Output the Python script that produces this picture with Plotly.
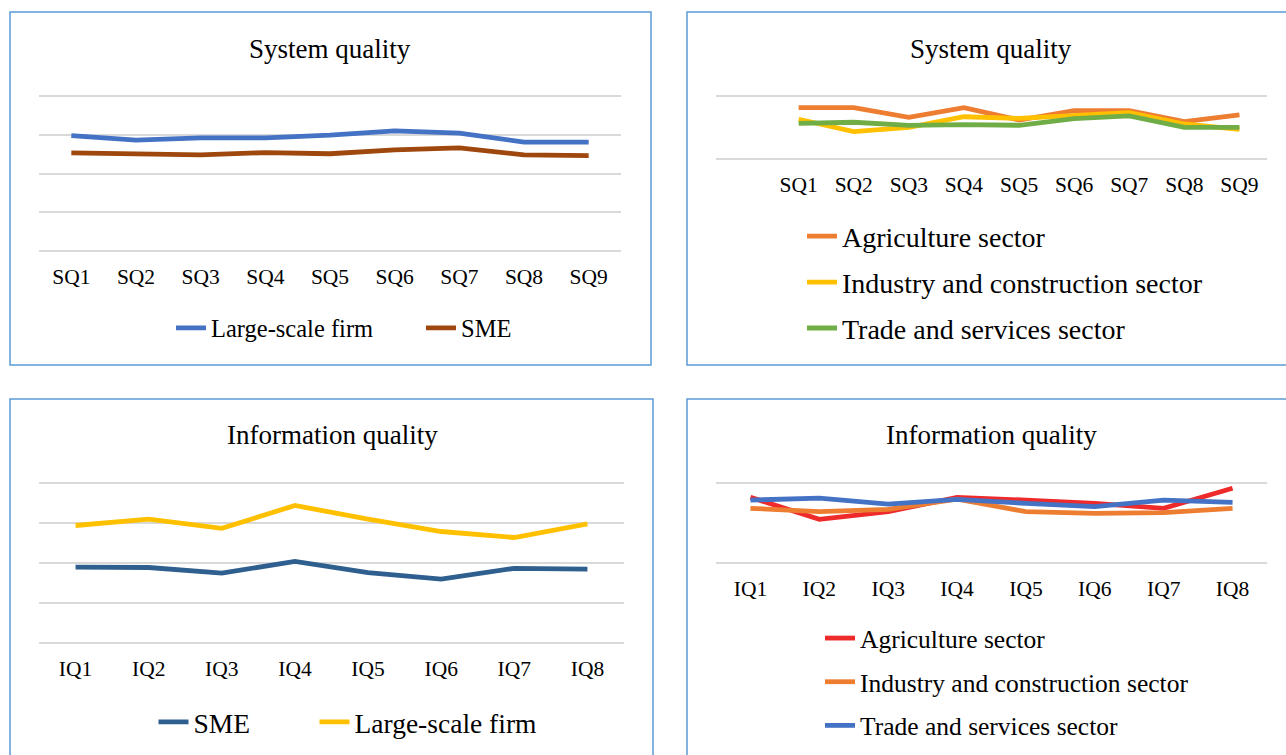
import plotly.graph_objects as go

W, H = 1286, 755

sq_labels = ["SQ1", "SQ2", "SQ3", "SQ4", "SQ5", "SQ6", "SQ7", "SQ8", "SQ9"]
iq_labels = ["IQ1", "IQ2", "IQ3", "IQ4", "IQ5", "IQ6", "IQ7", "IQ8"]

# Panel 1: System quality by firm size
sq_large = [2.98, 2.86, 2.92, 2.92, 2.99, 3.10, 3.04, 2.81, 2.81]
sq_sme = [2.53, 2.50, 2.48, 2.54, 2.51, 2.61, 2.66, 2.48, 2.46]

# Panel 2: System quality by sector
sq_agri = [3.26, 3.26, 2.65, 3.26, 2.48, 3.07, 3.07, 2.38, 2.80]
sq_ind = [2.53, 1.75, 2.02, 2.69, 2.59, 2.80, 2.95, 2.23, 1.89]
sq_trade = [2.27, 2.34, 2.15, 2.19, 2.15, 2.57, 2.74, 2.02, 2.02]

# Panel 3: Information quality by firm size
iq_sme = [1.89, 1.88, 1.74, 2.03, 1.75, 1.59, 1.86, 1.84]
iq_large = [2.93, 3.09, 2.86, 3.43, 3.09, 2.78, 2.63, 2.97]

# Panel 4: Information quality by sector
iq_agri = [3.27, 2.17, 2.55, 3.27, 3.13, 2.97, 2.72, 3.72]
iq_ind = [2.72, 2.55, 2.67, 3.18, 2.55, 2.47, 2.50, 2.72]
iq_trade = [3.13, 3.23, 2.93, 3.17, 2.97, 2.80, 3.13, 3.02]

FONT = "Liberation Serif"
LW = 4.8
YMAX = 4.0
PAD = 0.1
LABEL_GAP = 6.0


def px(x):
    return x / W


def py(y):
    return 1 - y / H


def ydom(top_px, bottom_px):
    # top_px / bottom_px: pixel rows of the gridlines at YMAX and 0
    unit = (bottom_px - top_px) / YMAX
    return [py(bottom_px + PAD * unit), py(top_px - PAD * unit)], PAD * unit


fig = go.Figure()


def add(xax, yax, labels, vals, name, color, legend, group):
    fig.add_trace(go.Scatter(
        x=list(range(len(labels))), y=vals, mode="lines", name=name,
        line=dict(color=color, width=LW), xaxis=xax, yaxis=yax,
        legend=legend, legendgroup=group, hoverinfo="skip"))


add("x", "y", sq_labels, sq_large, "Large-scale firm", "#4472C4", "legend", "a")
add("x", "y", sq_labels, sq_sme, "SME", "#9E480E", "legend5", "b")

add("x2", "y2", sq_labels, sq_agri, "Agriculture sector", "#ED7D31", "legend2", "c")
add("x2", "y2", sq_labels, sq_ind, "Industry and construction sector", "#FFC000", "legend2", "d")
add("x2", "y2", sq_labels, sq_trade, "Trade and services sector", "#70AD47", "legend2", "e")

add("x3", "y3", iq_labels, iq_sme, "SME", "#2F5F8F", "legend3", "f")
add("x3", "y3", iq_labels, iq_large, "Large-scale firm", "#FFC000", "legend6", "g")

add("x4", "y4", iq_labels, iq_agri, "Agriculture sector", "#EE2A2A", "legend4", "h")
add("x4", "y4", iq_labels, iq_ind, "Industry and construction sector", "#ED7D31", "legend4", "i")
add("x4", "y4", iq_labels, iq_trade, "Trade and services sector", "#4472C4", "legend4", "j")

grid = "#D9D9D9"


def xaxis(dom, labels, lo, anchor, pad_px):
    return dict(domain=dom, range=[lo, len(labels) - 0.5], anchor=anchor,
                tickmode="array", tickvals=list(range(len(labels))), ticktext=labels,
                showgrid=False, zeroline=False, showline=False,
                ticks="outside", ticklen=max(0.5, LABEL_GAP - pad_px),
                tickcolor="rgba(0,0,0,0)",
                tickfont=dict(family=FONT, size=21.5, color="#000000"), fixedrange=True)


def yaxis(dom, dtick, anchor):
    return dict(domain=dom, range=[-PAD, YMAX + PAD], dtick=dtick, tick0=0,
                showticklabels=False, anchor=anchor,
                showgrid=True, gridcolor=grid, gridwidth=1.5,
                zeroline=True, zerolinecolor=grid, zerolinewidth=1.5,
                showline=False, fixedrange=True)


d1, p1 = ydom(96, 251)
d2, p2 = ydom(96, 159.3)
d3, p3 = ydom(482.7, 642.7)
d4, p4 = ydom(482.7, 562.7)


def hleg(text_x, y, size):
    return dict(orientation="h", x=px(text_x - 40), y=py(y), xanchor="left", yanchor="middle",
                font=dict(family=FONT, size=size, color="#000"), bgcolor="rgba(0,0,0,0)")


layout = dict(
    width=W, height=H, margin=dict(l=0, r=0, t=0, b=0),
    paper_bgcolor="white", plot_bgcolor="white",
    xaxis=xaxis([px(39), px(621)], sq_labels, -0.5, "y", p1),
    yaxis=yaxis(d1, 1, "x"),
    xaxis2=xaxis([px(716), px(1267)], sq_labels, -1.5, "y2", p2),
    yaxis2=yaxis(d2, 4, "x2"),
    xaxis3=xaxis([px(39), px(624)], iq_labels, -0.5, "y3", p3),
    yaxis3=yaxis(d3, 1, "x3"),
    xaxis4=xaxis([px(716), px(1267)], iq_labels, -0.5, "y4", p4),
    yaxis4=yaxis(d4, 4, "x4"),
    showlegend=True,
    legend=hleg(211, 328, 24.5),
    legend5=hleg(461, 328, 24.5),
    legend3=hleg(193.5, 722, 27.5),
    legend6=hleg(354.5, 722, 27.5),
    legend2=dict(orientation="v", x=px(802), y=py(282.5), xanchor="left", yanchor="middle",
                 font=dict(family=FONT, size=28, color="#000"), tracegroupgap=6.5,
                 bgcolor="rgba(0,0,0,0)"),
    legend4=dict(orientation="v", x=px(820), y=py(682), xanchor="left", yanchor="middle",
                 font=dict(family=FONT, size=25.5, color="#000"), tracegroupgap=7.5,
                 bgcolor="rgba(0,0,0,0)"),
)
fig.update_layout(**layout)

border = "#5B9BD5"
boxes = [(10, 12, 651, 365), (687, 12, 1290, 365), (10, 399, 653, 760), (687, 399, 1290, 760)]
for x0, y0, x1, y1 in boxes:
    fig.add_shape(type="rect", xref="paper", yref="paper",
                  x0=px(x0), x1=px(x1), y0=py(y1), y1=py(y0),
                  line=dict(color=border, width=1.5), fillcolor="rgba(0,0,0,0)", layer="below")

titles = [("System quality", 330, 49), ("System quality", 991, 49),
          ("Information quality", 332, 435), ("Information quality", 991, 435)]
for t, x, y in titles:
    fig.add_annotation(text=t, xref="paper", yref="paper", x=px(x), y=py(y),
                       xanchor="center", yanchor="middle", showarrow=False,
                       font=dict(family=FONT, size=27, color="#000"))

fig.write_html("out.html", config={"displayModeBar": False},
               post_script="document.body.style.margin='0';document.body.style.overflow='hidden';")
